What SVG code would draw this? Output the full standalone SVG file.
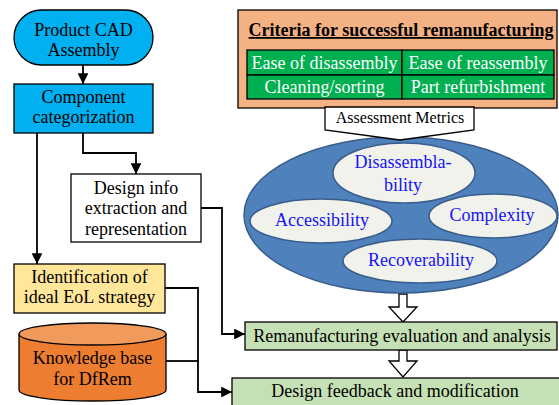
<svg xmlns="http://www.w3.org/2000/svg" width="559" height="405" viewBox="0 0 559 405">
  <defs>
    <style>
      .t { font-family: "Liberation Serif", "Times New Roman", serif; font-size: 18px; fill: #000; text-anchor: middle; }
      .small { font-size: 16px; }
      .w { fill: #fff; }
      .b { fill: #1414f5; }
      .box { stroke: #000; stroke-width: 1.3; }
      .conn { fill: none; stroke: #000; stroke-width: 1.8; }
      .hollow { fill: #fff; stroke: #000; stroke-width: 1.3; stroke-linejoin: miter; }
      .inner { fill: #f2f2ec; stroke: #385d8a; stroke-width: 1.5; }
    </style>
    <marker id="arr" viewBox="0 0 10 10" refX="10" refY="5" markerWidth="6" markerHeight="6" markerUnits="strokeWidth" orient="auto">
      <path d="M0,0 L10,5 L0,10 z" fill="#000"/>
    </marker>
  </defs>

  <!-- connectors -->
  <g id="connectors">
    <path class="conn" d="M83,65 V84" marker-end="url(#arr)"/>
    <path class="conn" d="M83,133 V153 H136 V174" marker-end="url(#arr)"/>
    <path class="conn" d="M37,133 V264" marker-end="url(#arr)"/>
    <path class="conn" d="M201,208 H222 V334 H245" marker-end="url(#arr)"/>
    <path class="conn" d="M165,288 H198 V392 H232" marker-end="url(#arr)"/>
    <path class="conn" d="M166,361 H198"/>
    <!-- hollow block arrows -->
    <path class="hollow" d="M399,294 H407 V307 H417 L403,322 L389,307 H399 Z"/>
    <path class="hollow" d="M399,350 H407 V361 H417 L403,377 L389,361 H399 Z"/>
  </g>

  <g id="product-cad">
    <rect class="box" x="14" y="10" width="139" height="55" rx="27.5" fill="#00b0f0"/>
    <text class="t" x="83.5" y="36">Product CAD</text>
    <text class="t" x="83.5" y="56">Assembly</text>
  </g>

  <g id="component-categorization">
    <rect class="box" x="14" y="84" width="139" height="49" fill="#00b0f0"/>
    <text class="t" x="83.5" y="103">Component</text>
    <text class="t" x="83.5" y="123">categorization</text>
  </g>

  <g id="design-info">
    <rect class="box" x="71" y="174" width="130" height="68" fill="#fff"/>
    <text class="t" x="136" y="194">Design info</text>
    <text class="t" x="136" y="214">extraction and</text>
    <text class="t" x="136" y="235">representation</text>
  </g>

  <g id="eol-strategy">
    <rect class="box" x="14" y="264" width="151" height="49" fill="#ffe699"/>
    <text class="t" x="89.5" y="283">Identification of</text>
    <text class="t" x="89.5" y="303">ideal EoL strategy</text>
  </g>

  <g id="knowledge-base">
    <path class="box" d="M19,334 V390 A73.5,11 0 0 0 166,390 V334" fill="#ed7d31"/>
    <ellipse class="box" cx="92.5" cy="334" rx="73.5" ry="11" fill="#f09a5c"/>
    <text class="t" x="92.5" y="364">Knowledge base</text>
    <text class="t" x="92.5" y="385">for DfRem</text>
  </g>

  <g id="criteria">
    <rect class="box" x="238" y="10" width="319" height="98" fill="#f4b183"/>
    <text class="t" x="401" y="36" font-weight="bold" text-decoration="underline">Criteria for successful remanufacturing</text>
    <rect class="box" x="247" y="50" width="155" height="25" fill="#00b050"/>
    <rect class="box" x="402" y="50" width="152" height="25" fill="#00b050"/>
    <rect class="box" x="247" y="75" width="155" height="24" fill="#00b050"/>
    <rect class="box" x="402" y="75" width="152" height="24" fill="#00b050"/>
    <text class="t w" x="324.5" y="69">Ease of disassembly</text>
    <text class="t w" x="478" y="69">Ease of reassembly</text>
    <text class="t w" x="324.5" y="93">Cleaning/sorting</text>
    <text class="t w" x="478" y="93">Part refurbishment</text>
  </g>

  <g id="metrics">
    <ellipse cx="401" cy="215" rx="157" ry="78" fill="#4f81bd" stroke="#385d8a" stroke-width="1.5"/>
    <path class="box" d="M325,107 H474 V130 L400,140 L325,130 Z" fill="#fff"/>
    <text class="t small" x="400" y="123">Assessment Metrics</text>
    <ellipse class="inner" cx="404" cy="173" rx="71" ry="30"/>
    <text class="t b" x="403" y="168">Disassembla-</text>
    <text class="t b" x="403" y="191">bility</text>
    <ellipse class="inner" cx="321" cy="221" rx="71" ry="22"/>
    <text class="t b" x="322" y="226">Accessibility</text>
    <ellipse class="inner" cx="493" cy="216" rx="64" ry="22"/>
    <text class="t b" x="492" y="221">Complexity</text>
    <ellipse class="inner" cx="420" cy="261" rx="77" ry="22"/>
    <text class="t b" x="421" y="266">Recoverability</text>
  </g>

  <g id="remanufacturing-evaluation">
    <rect class="box" x="245" y="322" width="312" height="28" fill="#c5e0b4"/>
    <text class="t" x="402" y="342">Remanufacturing evaluation and analysis</text>
  </g>

  <g id="design-feedback">
    <rect class="box" x="232" y="378" width="340" height="40" fill="#c5e0b4"/>
    <text class="t" x="395" y="397">Design feedback and modification</text>
  </g>
</svg>
